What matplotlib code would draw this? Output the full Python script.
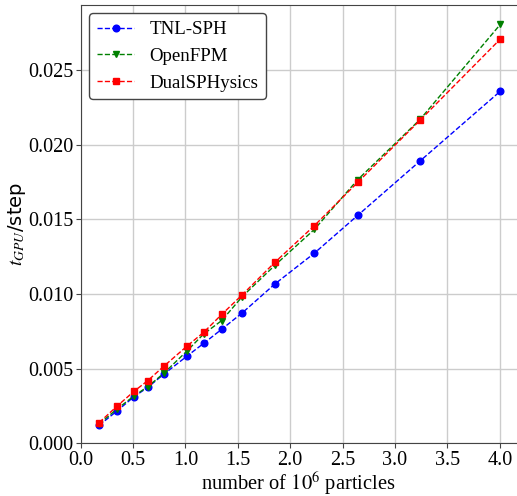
import matplotlib
matplotlib.use('Agg')
import matplotlib.pyplot as plt

# Particle counts (millions) and GPU time per step.
particles = [0.176, 0.350, 0.510, 0.640, 0.793, 1.018, 1.175, 1.346,
             1.543, 1.852, 2.230, 2.644, 3.239, 4.005]
tnl_sph = [0.00121, 0.00219, 0.00313, 0.00375, 0.00463, 0.00586, 0.00670,
           0.00764, 0.00874, 0.01066, 0.01273, 0.01526, 0.01890, 0.02357]
openfpm = [0.00130, 0.00232, 0.00318, 0.00380, 0.00469, 0.00621, 0.00733,
           0.00822, 0.00983, 0.01191, 0.01432, 0.01765, 0.02168, 0.02804]
dualsph = [0.00139, 0.00251, 0.00349, 0.00420, 0.00516, 0.00653, 0.00744,
           0.00863, 0.00995, 0.01211, 0.01457, 0.01747, 0.02163, 0.02706]

plt.rcParams['font.family'] = ['Liberation Serif', 'DejaVu Serif']
plt.rcParams['mathtext.fontset'] = 'stix'

fig = plt.figure(figsize=(5.17, 4.96), dpi=100)
axes = fig.add_axes([0.156, 0.106, 0.844, 0.884])

axes.plot(particles, tnl_sph, 'o--', color='b', markersize=4.8, linewidth=1,
          label='TNL-SPH')
axes.plot(particles, openfpm, 'v--', color='g', markersize=4.8, linewidth=1,
          label='OpenFPM')
axes.plot(particles, dualsph, 's--', color='r', markersize=4.8, linewidth=1,
          label='DualSPHysics')

axes.set_xlim(0, 4.164)
axes.set_ylim(0, 0.02934)
axes.set_xticks([0.0, 0.5, 1.0, 1.5, 2.0, 2.5, 3.0, 3.5, 4.0])
axes.set_yticks([0.000, 0.005, 0.010, 0.015, 0.020, 0.025])
axes.set_yticklabels(['0.000', '0.005', '0.010', '0.015', '0.020', '0.025'])
axes.tick_params(labelsize=14.5, color='#444444', pad=2)
axes.grid(True, color='#cccccc', linewidth=1)
axes.set_axisbelow(True)
for side in ('left', 'bottom', 'top'):
    axes.spines[side].set_color('#444444')
axes.spines['right'].set_visible(False)

axes.set_xlabel('number of $10^6$ particles', fontsize=14.8, labelpad=0)
axes.set_ylabel('$t_{GPU}$/step', fontsize=14, family='DejaVu Sans',
                labelpad=0)

leg = axes.legend(loc='upper left', fontsize=13.6, fancybox=True,
                  edgecolor='#444444', framealpha=1, handlelength=2.0,
                  borderaxespad=0.45)

plt.savefig('out.png', dpi=100)
